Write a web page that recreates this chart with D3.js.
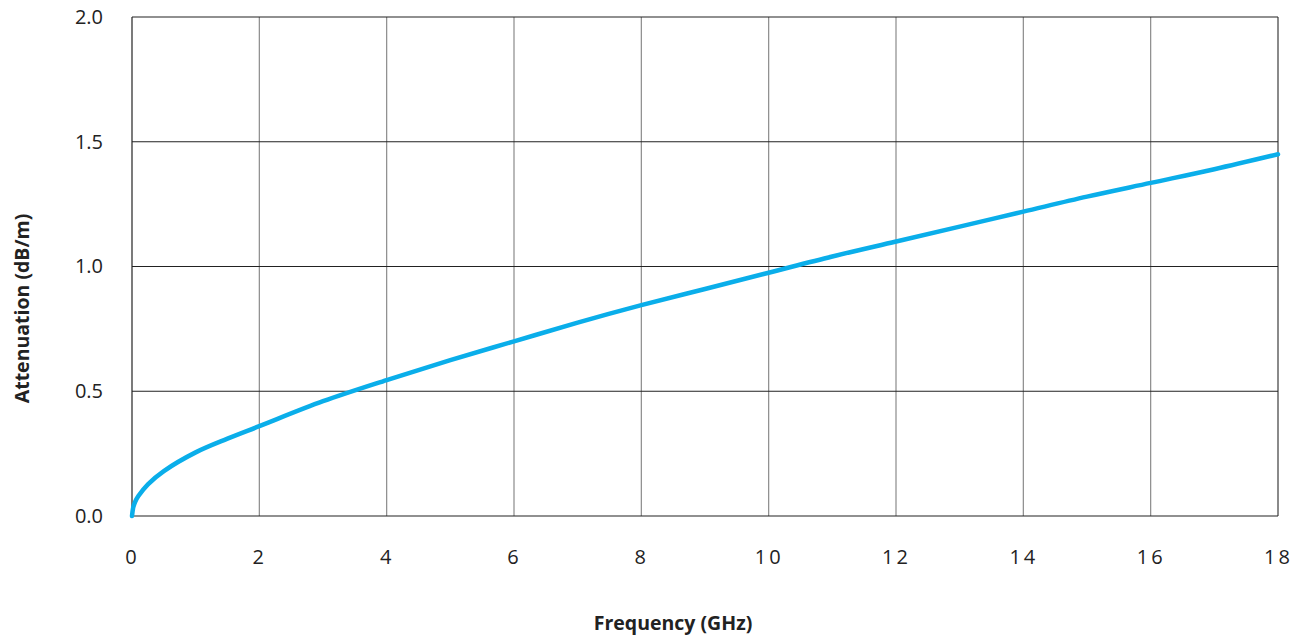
<!DOCTYPE html>
<html>
<head>
<meta charset="utf-8">
<script src="https://cdn.jsdelivr.net/npm/d3@7"></script>
<style>
  body { margin: 0; background: #fff; }
  text { font-family: "Open Sans", "DejaVu Sans", sans-serif; }
</style>
</head>
<body>
<svg id="canvas" width="1305" height="639"></svg>
<script>
// readings
const freq = [0, 0.02, 0.05, 0.1, 0.25, 0.5, 1, 1.5, 2, 3, 4, 5, 6, 7, 8, 9, 10, 11, 12, 13, 14, 15, 16, 17, 18];
const atten = [0, 0.035, 0.057, 0.08, 0.127, 0.18, 0.255, 0.31, 0.36, 0.46, 0.545, 0.625, 0.70, 0.775, 0.845, 0.91, 0.975, 1.04, 1.10, 1.16, 1.22, 1.28, 1.335, 1.39, 1.45];
const xTicks = [0, 2, 4, 6, 8, 10, 12, 14, 16, 18];
const yTicks = [0, 0.5, 1.0, 1.5, 2.0];

const svg = d3.select('#canvas');
const plotLeft = 132, plotRight = 1278, plotTop = 17, plotBottom = 516;

const x = d3.scaleLinear().domain([0, 18]).range([plotLeft, plotRight]);
const y = d3.scaleLinear().domain([0, 2]).range([plotBottom, plotTop]);

// vertical grid (grey)
svg.append('g')
  .selectAll('line')
  .data(xTicks)
  .enter()
  .append('line')
  .attr('x1', d => x(d)).attr('x2', d => x(d))
  .attr('y1', plotTop).attr('y2', plotBottom)
  .attr('stroke', d => d === 0 ? '#222' : '#8a8a8a')
  .attr('stroke-width', d => d === 18 ? 2 : 1.2);

// horizontal grid (dark)
svg.append('g')
  .selectAll('line')
  .data(yTicks)
  .enter()
  .append('line')
  .attr('x1', plotLeft).attr('x2', plotRight)
  .attr('y1', d => y(d)).attr('y2', d => y(d))
  .attr('stroke', '#222')
  .attr('stroke-width', 1.2);

// tick labels
const xAxis = d3.axisBottom(x).tickValues(xTicks).tickSize(0).tickPadding(0)
  .tickFormat(d3.format('d'));
const gx = svg.append('g').attr('transform', `translate(0,${plotBottom + 34})`).call(xAxis);
gx.select('.domain').remove();
gx.selectAll('text').attr('font-size', 20).attr('fill', '#222')
  .attr('letter-spacing', 3).attr('font-family', '"Open Sans", sans-serif');

const yAxis = d3.axisLeft(y).tickValues(yTicks).tickSize(0).tickPadding(0)
  .tickFormat(d3.format('.1f'));
const gy = svg.append('g').attr('transform', `translate(${plotLeft - 29},0)`).call(yAxis);
gy.select('.domain').remove();
gy.selectAll('text').attr('font-size', 20).attr('fill', '#222')
  .attr('font-family', '"Open Sans", sans-serif');

// the curve
const line = d3.line()
  .x((d, i) => x(freq[i]))
  .y(d => y(d))
  .curve(d3.curveCatmullRom.alpha(0.5));

svg.append('path')
  .datum(atten)
  .attr('d', line)
  .attr('fill', 'none')
  .attr('stroke', '#0aaeea')
  .attr('stroke-width', 4.5)
  .attr('stroke-linecap', 'round');

// axis titles
svg.append('text')
  .attr('x', (plotLeft + plotRight) / 2 - 32)
  .attr('y', 630)
  .attr('text-anchor', 'middle')
  .attr('font-size', 19.5)
  .attr('font-weight', 'bold')
  .attr('fill', '#222')
  .text('Frequency (GHz)');

svg.append('text')
  .attr('transform', `translate(29,${(plotTop + plotBottom) / 2 + 42}) rotate(-90)`)
  .attr('text-anchor', 'middle')
  .attr('font-size', 19.5)
  .attr('font-weight', 'bold')
  .attr('fill', '#222')
  .text('Attenuation (dB/m)');
</script>
</body>
</html>
